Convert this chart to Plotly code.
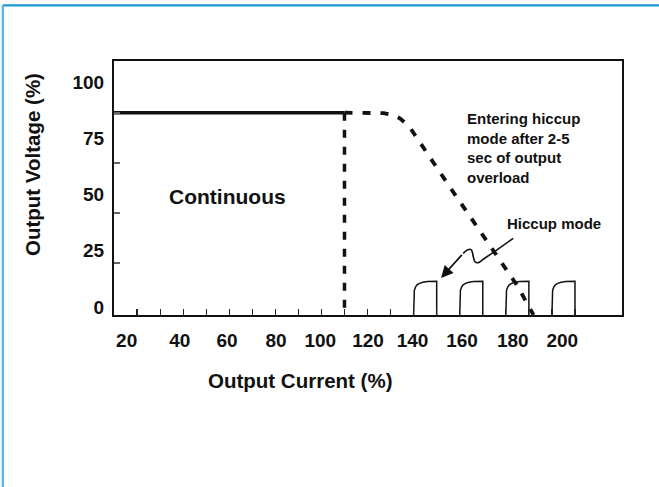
import plotly.graph_objects as go

# ---------------- data ----------------
cv_current = [10, 110]                 # constant output voltage region (solid)
cv_voltage = [90, 90]
limit_current = [110, 110]             # current-limit drop (dashed)
limit_voltage = [90, 0]
foldback_current = [110, 120, 127, 131, 134, 138, 145, 155, 165, 175, 185, 192]
foldback_voltage = [90, 90, 89.8, 89, 87.5, 84, 73, 58, 43, 28, 13, 0]

pulse_starts = [140, 160, 180, 200]    # hiccup pulses (output current %)
pulse_dx = [0, 0, 0.3, 0.8, 1.5, 2.5, 4, 6, 8, 10, 10]
pulse_v = [0, 9, 11, 12.4, 13.4, 14.1, 14.6, 14.9, 15, 15, 0]

squiggle_x = [183.2, 176.0, 170.2, 168.0, 166.6, 165.9, 165.4, 164.8, 163.3, 161.5]
squiggle_y = [34.1, 28.9, 24.8, 23.3, 23.7, 25.9, 28.2, 29.2, 28.9, 27.4]
arrow_tip = [151.9, 16.5]

xtick_labels = ["20", "40", "60", "80", "100", "120", "140", "160", "180", "200"]
xtick_pos = [15.5, 38.5, 59, 80.3, 99.5, 120.2, 139.5, 161, 183, 204.5]
x_minor = [20, 30, 40, 50, 60, 70, 80, 90, 100, 110, 120, 130, 140, 150, 160, 170, 180, 190, 200, 210]
ytick_labels = ["0", "25", "50", "75", "100"]
ytick_pos = [3.6, 28.6, 53.6, 78.6, 103.6]
y_minor = [23.1, 45.4, 67.6, 89.9]

# ---------------- figure ----------------
FONT = "Liberation Sans, Arial, Helvetica, sans-serif"
INK = "#111111"

fig = go.Figure()

fig.add_trace(go.Scatter(x=cv_current, y=cv_voltage, mode="lines",
                         line=dict(color=INK, width=3.5), hoverinfo="skip"))
fig.add_trace(go.Scatter(x=limit_current, y=limit_voltage, mode="lines",
                         line=dict(color=INK, width=3.5, dash="8px,9px"), hoverinfo="skip"))
fig.add_trace(go.Scatter(x=foldback_current, y=foldback_voltage, mode="lines",
                         line=dict(color=INK, width=3.8, dash="8px,10px"), hoverinfo="skip"))

px_, py_ = [], []
for s in pulse_starts:
    px_ += [s + d for d in pulse_dx] + [None]
    py_ += pulse_v + [None]
fig.add_trace(go.Scatter(x=px_, y=py_, mode="lines",
                         line=dict(color=INK, width=1.5), hoverinfo="skip"))

fig.add_trace(go.Scatter(x=squiggle_x, y=squiggle_y, mode="lines",
                         line=dict(color=INK, width=1.6, shape="spline", smoothing=1.0),
                         hoverinfo="skip"))

fig.add_annotation(x=arrow_tip[0], y=arrow_tip[1], ax=squiggle_x[-1], ay=squiggle_y[-1],
                   xref="x", yref="y", axref="x", ayref="y", text="", showarrow=True,
                   arrowhead=2, arrowsize=1.5, arrowwidth=1.6, arrowcolor=INK, standoff=0)

fig.add_annotation(x=33.0, y=52.5, xref="x", yref="y", text="Continuous", showarrow=False,
                   xanchor="left", yanchor="middle", font=dict(size=21, color=INK, family=FONT, weight="bold"))
fig.add_annotation(x=162.3, y=74.5, xref="x", yref="y",
                   text="Entering hiccup<br>mode after 2-5<br>sec of output<br>overload",
                   showarrow=False, xanchor="left", yanchor="middle", align="left",
                   font=dict(size=15, color=INK, family=FONT, weight="bold"))
fig.add_annotation(x=179.6, y=40.8, xref="x", yref="y", text="Hiccup mode", showarrow=False,
                   xanchor="left", yanchor="middle", font=dict(size=15, color=INK, family=FONT, weight="bold"))

# axis titles
fig.add_annotation(x=-0.1594, y=0.5906, xref="paper", yref="paper", text="Output Voltage (%)",
                   textangle=-90, showarrow=False, xanchor="center", yanchor="middle",
                   font=dict(size=20.5, color=INK, family=FONT, weight="bold"))
fig.add_annotation(x=0.366, y=-0.256, xref="paper", yref="paper", text="Output Current (%)",
                   showarrow=False, xanchor="center", yanchor="middle",
                   font=dict(size=20.5, color=INK, family=FONT, weight="bold"))

# blue frame (top and left edges)
fig.add_shape(type="line", xref="paper", yref="paper", x0=-0.2189, x1=1.08, y0=1.2193, y1=1.2193,
              line=dict(color="#1b98d6", width=2.2))
fig.add_shape(type="line", xref="paper", yref="paper", x0=-0.2189, x1=-0.2189, y0=1.2193, y1=-0.70,
              line=dict(color="#4fb6e8", width=2.2))

fig.update_xaxes(range=[10, 230.4], showline=True, linecolor=INK, linewidth=2, mirror=True,
                 showgrid=False, zeroline=False, tickmode="array", tickvals=xtick_pos,
                 ticktext=xtick_labels, ticks="", ticklabelstandoff=7,
                 tickfont=dict(size=19, color=INK, family=FONT, weight="bold"),
                 minor=dict(tickmode="array", tickvals=x_minor, ticks="inside", ticklen=6,
                            tickwidth=1.2, tickcolor="#222222", showgrid=False))
fig.update_yaxes(range=[0, 113], showline=True, linecolor=INK, linewidth=2, mirror=True,
                 showgrid=False, zeroline=False, tickmode="array", tickvals=ytick_pos,
                 ticktext=ytick_labels, ticks="", ticklabelstandoff=4,
                 tickfont=dict(size=19, color=INK, family=FONT, weight="bold"),
                 minor=dict(tickmode="array", tickvals=y_minor, ticks="inside", ticklen=6,
                            tickwidth=1.2, tickcolor="#666666", showgrid=False))

fig.update_layout(width=659, height=487, margin=dict(l=114, r=37, t=61, b=172),
                  plot_bgcolor="white", paper_bgcolor="white", showlegend=False,
                  font=dict(family=FONT, size=19, color=INK))

fig.write_html("out.html", config={"displayModeBar": False, "staticPlot": True},
               post_script="document.body.style.margin='0';document.body.style.overflow='hidden';")
